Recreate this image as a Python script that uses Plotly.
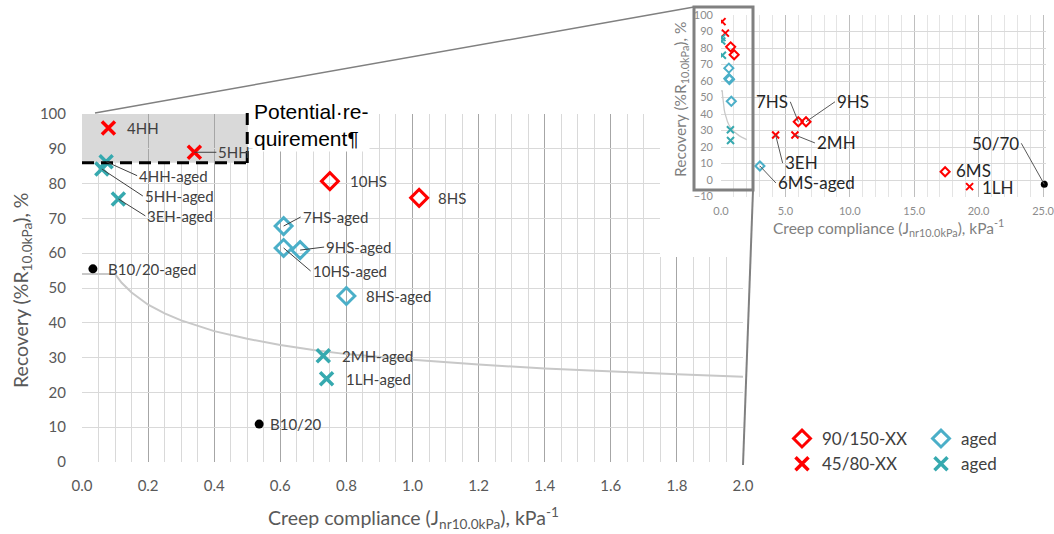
import plotly.graph_objects as go

W, H = 1054, 534

# ---------------- data ----------------
# 45/80-XX binders (red crosses)
pmb45_names = ["4HH", "5HH", "3EH", "2MH", "1LH"]
pmb45_x = [0.08, 0.34, 4.24, 5.74, 19.3]
pmb45_y = [96.0, 89.0, 27.3, 27.3, -4.0]

# 90/150-XX binders (red diamonds)
pmb90_names = ["10HS", "8HS", "7HS", "9HS", "6MS"]
pmb90_x = [0.75, 1.02, 6.0, 6.6, 17.4]
pmb90_y = [80.7, 75.9, 35.3, 35.3, 5.0]

# aged 90/150-XX (blue diamonds)
aged90_names = ["7HS-aged", "9HS-aged", "10HS-aged", "8HS-aged", "6MS-aged"]
aged90_x = [0.61, 0.66, 0.61, 0.80, 3.02]
aged90_y = [67.8, 60.9, 61.5, 47.7, 8.5]

# aged 45/80-XX (teal crosses)
aged45_names = ["4HH-aged", "5HH-aged", "3EH-aged", "2MH-aged", "1LH-aged"]
aged45_x = [0.073, 0.06, 0.11, 0.73, 0.74]
aged45_y = [86.3, 84.2, 75.6, 30.5, 23.9]

# hard binder (black dots, main chart)
hard_names = ["B10/20-aged", "B10/20"]
hard_x = [0.033, 0.536]
hard_y = [55.5, 10.9]

# reference binder (black dot, inset)
ref_names = ["50/70"]
ref_x = [25.1]
ref_y = [-2.6]

# gray requirement curve
curve_x = [0.0, 0.1, 0.12, 0.15, 0.2, 0.25, 0.3, 0.4, 0.5, 0.6, 0.7, 0.8, 1.0, 1.2, 1.4, 1.6, 1.8, 2.0]
curve_y = [54.0, 54.0, 51.5, 48.7, 45.2, 42.7, 40.7, 37.6, 35.4, 33.6, 32.2, 31.0, 29.4, 28.0, 26.9, 26.0, 25.2, 24.5]

# shaded "potential requirement" zone
req_x = [0.0, 0.5]
req_y = [86.0, 100.0]

main_xticks = [0.0, 0.2, 0.4, 0.6, 0.8, 1.0, 1.2, 1.4, 1.6, 1.8, 2.0]
main_yticks = [0, 10, 20, 30, 40, 50, 60, 70, 80, 90, 100]
inset_xticks = [0.0, 5.0, 10.0, 15.0, 20.0, 25.0]
inset_yticks = [-10, 0, 10, 20, 30, 40, 50, 60, 70, 80, 90, 100]

# ---------------- styles ----------------
RED = "#FF0000"
TEAL_X = "#36A9AF"
BLUE_D = "#4BAFC8"
FONT = "Lato"
LABEL_C = "#404040"
TICK_C = "#595959"


def px(x):
    return x / W


def py(y):
    return 1 - y / H


fig = go.Figure()

# ---------------- main chart ----------------
fig.add_trace(go.Scatter(x=curve_x, y=curve_y, mode="lines",
                         line=dict(color="#C8C8C8", width=2),
                         showlegend=False, hoverinfo="skip", xaxis="x", yaxis="y"))
fig.add_trace(go.Scatter(x=pmb90_x, y=pmb90_y, mode="markers", name="90/150-XX",
                         marker=dict(symbol="diamond-open", size=13, color=RED,
                                     line=dict(color=RED, width=3)),
                         legend="legend", xaxis="x", yaxis="y"))
fig.add_trace(go.Scatter(x=pmb45_x, y=pmb45_y, mode="markers", name="45/80-XX",
                         marker=dict(symbol="x-thin", size=13, color=RED,
                                     line=dict(color=RED, width=3.5)),
                         legend="legend", xaxis="x", yaxis="y"))
fig.add_trace(go.Scatter(x=aged90_x, y=aged90_y, mode="markers", name="aged",
                         marker=dict(symbol="diamond-open", size=13, color=BLUE_D,
                                     line=dict(color=BLUE_D, width=3)),
                         legend="legend2", xaxis="x", yaxis="y"))
fig.add_trace(go.Scatter(x=aged45_x, y=aged45_y, mode="markers", name="aged",
                         marker=dict(symbol="x-thin", size=13, color=TEAL_X,
                                     line=dict(color=TEAL_X, width=3.5)),
                         legend="legend2", xaxis="x", yaxis="y"))
fig.add_trace(go.Scatter(x=hard_x, y=hard_y, mode="markers",
                         marker=dict(symbol="circle", size=9, color="black"),
                         showlegend=False, xaxis="x", yaxis="y"))

# dummy subplot giving the white background behind the inset
fig.add_trace(go.Scatter(x=[None], y=[None], mode="markers", showlegend=False,
                         hoverinfo="skip", xaxis="x2", yaxis="y2"))

# ---------------- inset chart ----------------
fig.add_trace(go.Scatter(x=curve_x, y=curve_y, mode="lines",
                         line=dict(color="#C8C8C8", width=1.3),
                         showlegend=False, hoverinfo="skip", xaxis="x3", yaxis="y3"))
fig.add_trace(go.Scatter(x=pmb90_x, y=pmb90_y, mode="markers", showlegend=False,
                         marker=dict(symbol="diamond-open", size=7, color=RED,
                                     line=dict(color=RED, width=2)),
                         xaxis="x3", yaxis="y3"))
fig.add_trace(go.Scatter(x=pmb45_x, y=pmb45_y, mode="markers", showlegend=False,
                         marker=dict(symbol="x-thin", size=7, color=RED,
                                     line=dict(color=RED, width=2)),
                         xaxis="x3", yaxis="y3"))
fig.add_trace(go.Scatter(x=aged90_x, y=aged90_y, mode="markers", showlegend=False,
                         marker=dict(symbol="diamond-open", size=7, color=BLUE_D,
                                     line=dict(color=BLUE_D, width=2)),
                         xaxis="x3", yaxis="y3"))
fig.add_trace(go.Scatter(x=aged45_x, y=aged45_y, mode="markers", showlegend=False,
                         marker=dict(symbol="x-thin", size=7, color=TEAL_X,
                                     line=dict(color=TEAL_X, width=2)),
                         xaxis="x3", yaxis="y3"))
fig.add_trace(go.Scatter(x=ref_x, y=ref_y, mode="markers", showlegend=False,
                         marker=dict(symbol="circle", size=7, color="black"),
                         cliponaxis=False, xaxis="x3", yaxis="y3"))

# ---------------- point labels ----------------
# name -> (xshift/ax, yshift/ay, leader line?)
main_label_pos = {
    "4HH": (17, 0, False), "5HH": (22, 0, True),
    "4HH-aged": (31, 14, True), "5HH-aged": (41, 27, True), "3EH-aged": (27, 17, True),
    "10HS": (18, 0, False), "8HS": (17, 0, False),
    "7HS-aged": (17, -9, True), "9HS-aged": (24, -3, True), "10HS-aged": (27, 23, True),
    "8HS-aged": (18, 0, False), "2MH-aged": (17, 0, False), "1LH-aged": (17, 0, False),
    "B10/20-aged": (13, 0, False), "B10/20": (9, 0, False),
}
inset_label_pos = {
    "7HS": (-8, -20, True, "right"), "9HS": (29, -20, True, "left"),
    "2MH": (20, 8, True, "left"), "3EH": (7, 28, True, "left"),
    "6MS-aged": (16, 17, True, "left"), "6MS": (9, -1, False, "left"),
    "1LH": (10, 1, False, "left"), "50/70": (-23, -41, True, "right"),
}

annotations = []
all_pts = []
for names, xs, ys in [(pmb45_names, pmb45_x, pmb45_y), (pmb90_names, pmb90_x, pmb90_y),
                      (aged90_names, aged90_x, aged90_y), (aged45_names, aged45_x, aged45_y),
                      (hard_names, hard_x, hard_y), (ref_names, ref_x, ref_y)]:
    all_pts += list(zip(names, xs, ys))

for n, xv, yv in all_pts:
    if n in main_label_pos:
        dx, dy, arrow = main_label_pos[n]
        if arrow:
            annotations.append(dict(x=xv, y=yv, xref="x", yref="y", text=n, showarrow=True,
                                    ax=dx, ay=dy, xanchor="left", arrowhead=0, arrowwidth=1,
                                    arrowcolor="#404040", standoff=0,
                                    font=dict(family=FONT, size=15, color=LABEL_C)))
        else:
            annotations.append(dict(x=xv, y=yv, xref="x", yref="y", text=n, showarrow=False,
                                    xshift=dx, yshift=-dy, xanchor="left",
                                    font=dict(family=FONT, size=15, color=LABEL_C)))
    if n in inset_label_pos:
        dx, dy, arrow, anc = inset_label_pos[n]
        if arrow:
            annotations.append(dict(x=xv, y=yv, xref="x3", yref="y3", text=n, showarrow=True,
                                    ax=dx, ay=dy, xanchor=anc, arrowhead=0, arrowwidth=1,
                                    arrowcolor="#595959", standoff=0,
                                    font=dict(family=FONT, size=17, color="#262626")))
        else:
            annotations.append(dict(x=xv, y=yv, xref="x3", yref="y3", text=n, showarrow=False,
                                    xshift=dx, yshift=-dy, xanchor=anc,
                                    font=dict(family=FONT, size=17, color="#262626")))

# axis titles
annotations += [
    dict(x=px(22), y=py(290), xref="paper", yref="paper", showarrow=False, textangle=-90,
         xanchor="center", yanchor="middle",
         text="Recovery (%R<sub>10.0kPa</sub>), %", font=dict(family=FONT, size=19.5, color=TICK_C)),
    dict(x=px(413), y=py(518), xref="paper", yref="paper", showarrow=False,
         xanchor="center", yanchor="middle",
         text="Creep compliance (J<sub>nr10.0kPa</sub>), kPa<sup>-1</sup>",
         font=dict(family=FONT, size=19.5, color=TICK_C)),
    dict(x=px(681), y=py(100), xref="paper", yref="paper", showarrow=False, textangle=-90,
         xanchor="center", yanchor="middle",
         text="Recovery (%R<sub>10.0kPa</sub>), %", font=dict(family=FONT, size=15.5, color="#7F7F7F")),
    dict(x=px(888), y=py(228), xref="paper", yref="paper", showarrow=False,
         xanchor="center", yanchor="middle",
         text="Creep compliance (J<sub>nr10.0kPa</sub>), kPa<sup>-1</sup>",
         font=dict(family=FONT, size=15.5, color="#7F7F7F")),
    dict(x=px(252), y=py(98), xref="paper", yref="paper", showarrow=False,
         xanchor="left", yanchor="top", align="left", bgcolor="white", borderpad=1,
         text="Potential·re-<br>quirement¶",
         font=dict(family="Liberation Sans", size=21, color="black")),
]

# ---------------- shapes ----------------
shapes = [
    dict(type="rect", xref="x", yref="y", x0=req_x[0], x1=req_x[1], y0=req_y[0], y1=req_y[1],
         fillcolor="rgba(0,0,0,0.15)", line=dict(width=0), layer="below"),
    dict(type="line", xref="x", yref="y", x0=req_x[0], x1=req_x[1], y0=req_y[0], y1=req_y[0],
         line=dict(color="black", width=3, dash="12px,7px")),
    dict(type="line", xref="x", yref="paper", x0=req_x[1], x1=req_x[1], y0=py(163), y1=py(107),
         line=dict(color="black", width=3, dash="12px,7px")),
    # zoom connectors and inset highlight box
    dict(type="line", xref="paper", yref="paper", x0=px(95), y0=py(113), x1=px(694), y1=py(7),
         line=dict(color="#808080", width=1.5)),
    dict(type="line", xref="paper", yref="paper", x0=px(753), y0=py(190), x1=px(743), y1=py(465),
         line=dict(color="#808080", width=2)),
    dict(type="rect", xref="paper", yref="paper", x0=px(694), y0=py(190), x1=px(753), y1=py(7),
         line=dict(color="#808080", width=3), fillcolor="rgba(0,0,0,0)"),
]

INSET_X_MAX = 25.2
inset_px_per_unit = (1043 - 721) / 25.0

fig.update_layout(
    width=W, height=H, margin=dict(l=0, r=0, t=0, b=0, autoexpand=False),
    paper_bgcolor="white", plot_bgcolor="white",
    font=dict(family=FONT),
    annotations=annotations, shapes=shapes,
    xaxis=dict(domain=[px(82), px(743)], range=[0, 2], tickvals=main_xticks,
               tickformat=".1f", showgrid=True, gridcolor="#A6A6A6", gridwidth=1,
               minor=dict(dtick=0.05, showgrid=True, gridcolor="#D9D9D9", gridwidth=1),
               zeroline=False, showline=False, ticks="", automargin=False,
               tickfont=dict(family=FONT, size=15, color=TICK_C), ticklabelstandoff=13,
               anchor="y"),
    yaxis=dict(domain=[py(462), py(114)], range=[0, 100], tickvals=main_yticks,
               showgrid=True, gridcolor="#D9D9D9", zeroline=False, showline=False, ticks="",
               automargin=False,
               tickfont=dict(family=FONT, size=15, color=TICK_C), ticklabelstandoff=15,
               anchor="x"),
    xaxis2=dict(domain=[px(660), 1], range=[0, 1], visible=False, anchor="y2", automargin=False),
    yaxis2=dict(domain=[py(257), 1], range=[0, 1], visible=False, anchor="x2", automargin=False),
    xaxis3=dict(domain=[px(721), px(721 + INSET_X_MAX * inset_px_per_unit)],
                range=[0, INSET_X_MAX], tickvals=inset_xticks,
                tickformat=".1f", showgrid=True, gridcolor="#BFBFBF",
                minor=dict(dtick=1, showgrid=True, gridcolor="#E4E4E4"),
                zeroline=False, showline=False, ticks="", automargin=False,
                ticklabeloverflow="allow",
                tickfont=dict(family=FONT, size=11, color="#8C8C8C"), ticklabelstandoff=6,
                anchor="y3"),
    yaxis3=dict(domain=[py(196.5), py(15)], range=[-10, 100], tickvals=inset_yticks,
                showgrid=True, gridcolor="#D9D9D9", zeroline=False, showline=False, ticks="",
                automargin=False,
                tickfont=dict(family=FONT, size=11, color="#8C8C8C"), ticklabelstandoff=7,
                anchor="x3"),
    legend=dict(x=px(782), y=py(421), xanchor="left", yanchor="top",
                font=dict(family=FONT, size=17, color=LABEL_C), bgcolor="rgba(0,0,0,0)",
                tracegroupgap=0),
    legend2=dict(x=px(921), y=py(421), xanchor="left", yanchor="top",
                 font=dict(family=FONT, size=17, color=LABEL_C), bgcolor="rgba(0,0,0,0)",
                 tracegroupgap=0),
)

fig.write_html("out.html")
